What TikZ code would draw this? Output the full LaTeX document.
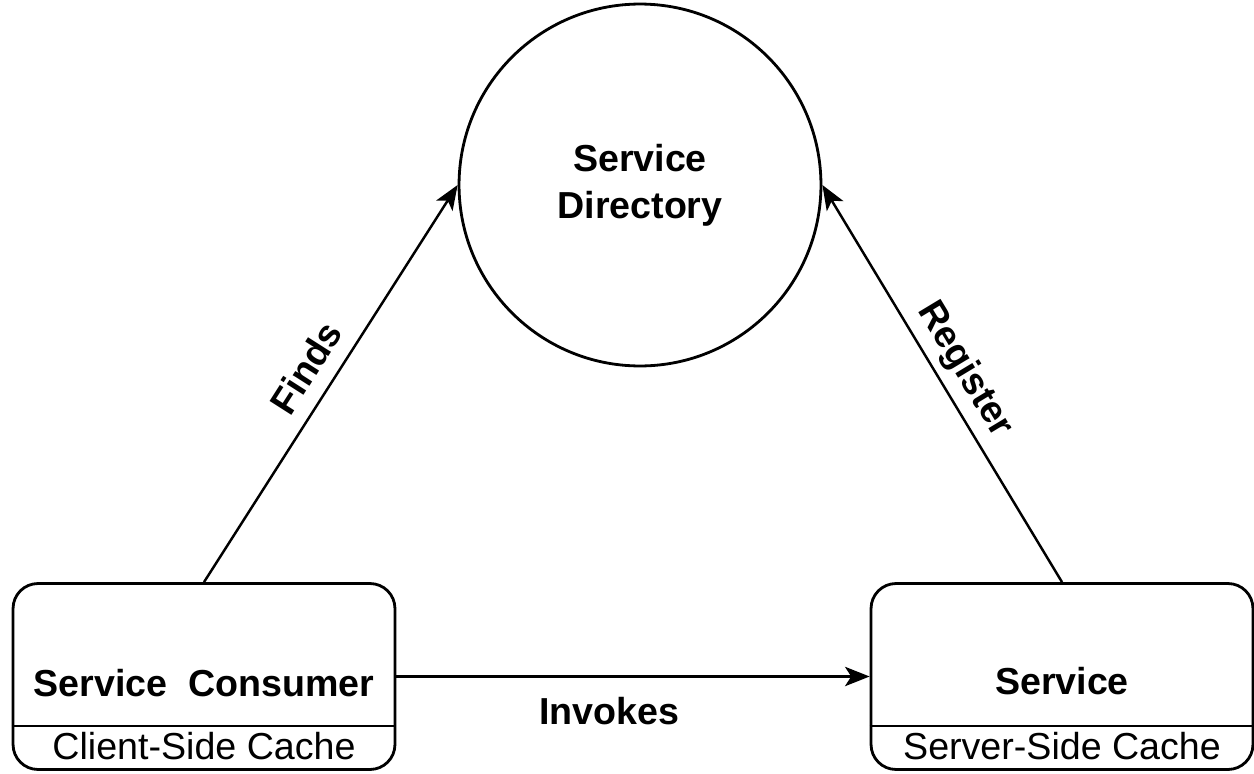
\documentclass[tikz,border=0pt]{standalone}
\usepackage{fontspec}
\setmainfont{Liberation Sans}
\usetikzlibrary{arrows.meta}

\begin{document}
\begin{tikzpicture}[x=0.02cm,y=-0.02cm,
	every node/.style={align=center,font=\fontsize{21.4}{27}\selectfont},
	box/.style={draw,line width=1.6pt,rounded corners=0.5cm,minimum width=7.64cm,minimum height=3.72cm},
	dir/.style={draw,circle,line width=1.6pt,minimum size=7.24cm,font=\fontsize{21.4}{27}\selectfont\bfseries},
	link/.style={line width=1.4pt,-{Stealth[length=14pt,width=11pt,inset=3.5pt]}},
	lbl/.style={font=\fontsize{21.4}{27}\selectfont\bfseries}]
	\useasboundingbox (0,0) rectangle (1254,774);
	\node[dir] (directory) at (640,185) {Service\\Directory};
	\node[box] (consumer) at (204,676.5) {};
	\node[box] (service) at (1062,676.5) {};
	\node[lbl] (consumertext) at ([yshift=-0.13cm]consumer.center) {Service\ \ Consumer};
	\node[lbl] (servicetext) at ([yshift=-0.1cm]service.center) {Service};
	\draw[line width=1.6pt] ([yshift=0.9cm]consumer.south west) -- ([yshift=0.9cm]consumer.south east);
	\draw[line width=1.6pt] ([yshift=0.9cm]service.south west) -- ([yshift=0.9cm]service.south east);
	\node (clientcache) at ([yshift=0.5cm]consumer.south) {Client-Side Cache};
	\node (servercache) at ([yshift=0.5cm]service.south) {Server-Side Cache};
	\draw[link] (consumer.north) -- node[lbl,sloped,above=5pt] (finds) {Finds} (directory.west);
	\draw[link] (service.north) -- node[lbl,sloped,above=1pt] (register) {Register} (directory.east);
	\draw[link] (consumer.east) -- node[lbl,pos=0.45,below=8pt] (invokes) {Invokes} (service.west);
\end{tikzpicture}
\end{document}
